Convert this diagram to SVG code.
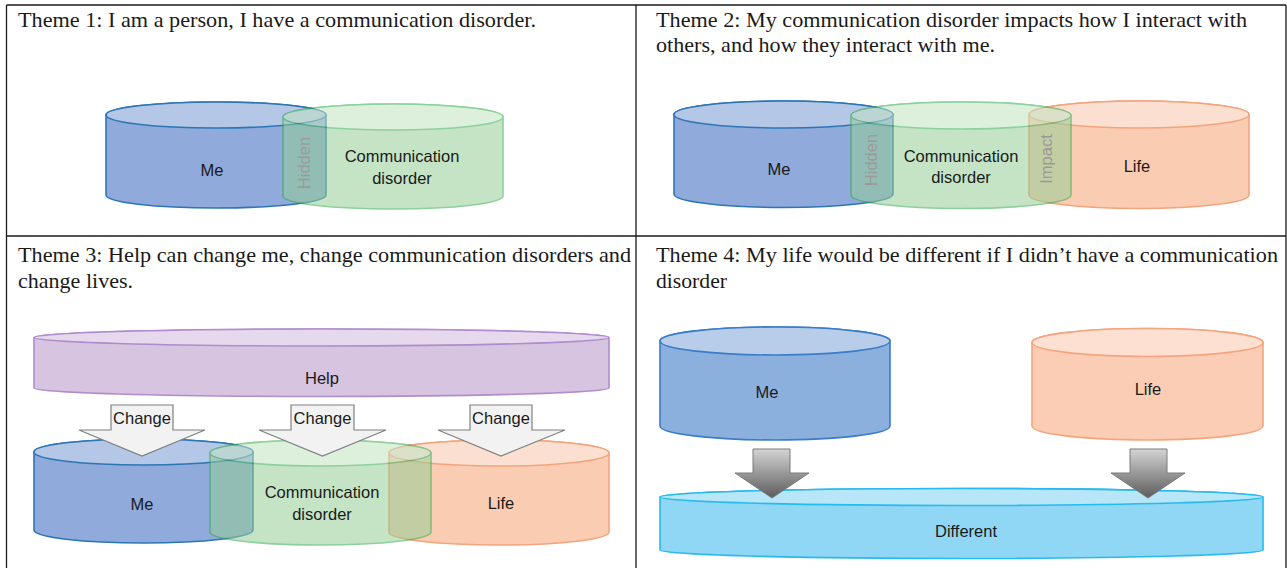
<svg xmlns="http://www.w3.org/2000/svg" width="1287" height="568" viewBox="0 0 1287 568">
<defs>
<linearGradient id="gray" x1="0" y1="0" x2="0" y2="1">
<stop offset="0" stop-color="#d4d4d4"/>
<stop offset="1" stop-color="#5c5c5c"/>
</linearGradient>
<style>
.title{font-family:"Liberation Serif","Times New Roman",serif;font-size:21px;fill:#1a1a1a}
.lbl{font-family:"Liberation Sans",Arial,sans-serif;font-size:16.5px;fill:#1a1a1a;text-anchor:middle}
.vlbl{font-family:"Liberation Sans",Arial,sans-serif;font-size:16.5px;fill:#9a9a9a;text-anchor:middle;dominant-baseline:central}
.grid{stroke:#1a1a1a;stroke-width:1.3;fill:none}
.cyl path,.cyl ellipse{stroke-width:1.6}
.me path{fill:#8faadb;stroke:#2e75b6}.me ellipse{fill:#b4c7e7;stroke:#2e75b6}
.comm{opacity:0.55}.comm path{fill:#96ce96;stroke:#33ab4e}.comm ellipse{fill:#c1e4c1;stroke:#33ab4e}
.life{opacity:0.6}.life path{fill:#f7ac82;stroke:#ed6926}.life ellipse{fill:#facbb4;stroke:#ed6926}
.help path{fill:#d6c4e1;stroke:#b18ccd}.help ellipse{fill:#e6d9ed;stroke:#b18ccd}
.me4 path{fill:#8cb0de;stroke:#3a7cc8}.me4 ellipse{fill:#b7cdea;stroke:#3a7cc8}
.life4 path{fill:#fbcdb4;stroke:#f5a57e}.life4 ellipse{fill:#fde0d2;stroke:#f5a57e}
.diff path{fill:#90d7f5;stroke:#27baee}.diff ellipse{fill:#b6e6f8;stroke:#27baee}
.warrow{fill:#f2f2f2;stroke:#808080;stroke-width:1.2}
.garrow{fill:url(#gray);stroke:#7a7a7a;stroke-width:1}
</style>
</defs>
<rect width="1287" height="568" fill="#ffffff"/>
<g id="table">
<path class="grid" d="M6.5 5 H1286 M6.5 5 V568 M636 5 V568 M1286 5 V568 M6.5 236 H1286"/>
</g>
<g id="titles">
<text class="title" x="18" y="27" textLength="518" lengthAdjust="spacingAndGlyphs">Theme 1: I am a person, I have a communication disorder.</text>
<text class="title" x="656" y="27" textLength="591" lengthAdjust="spacingAndGlyphs">Theme 2: My communication disorder impacts how I interact with</text>
<text class="title" x="656" y="52" textLength="339" lengthAdjust="spacingAndGlyphs">others, and how they interact with me.</text>
<text class="title" x="18" y="262" textLength="613" lengthAdjust="spacingAndGlyphs">Theme 3: Help can change me, change communication disorders and</text>
<text class="title" x="18" y="288" textLength="115" lengthAdjust="spacingAndGlyphs">change lives.</text>
<text class="title" x="656" y="262" textLength="622" lengthAdjust="spacingAndGlyphs">Theme 4: My life would be different if I didn’t have a communication</text>
<text class="title" x="656" y="288" textLength="71" lengthAdjust="spacingAndGlyphs">disorder</text>
</g>
<!-- Theme 1 -->
<g id="t1-me" class="cyl me">
<path d="M106 115 V195 A110 13 0 0 0 326 195 V115 A110 13 0 0 0 106 115 Z"/>
<ellipse cx="216" cy="115" rx="110" ry="13"/>
<text class="lbl" x="212" y="176">Me</text>
</g>
<g id="t1-comm" class="cyl comm">
<path d="M283 117 V196 A110 13 0 0 0 503 196 V117 A110 13 0 0 0 283 117 Z"/>
<ellipse cx="393" cy="117" rx="110" ry="13"/>
</g>
<g id="t1-comm-label">
<text class="lbl" x="402" y="162">Communication</text>
<text class="lbl" x="402" y="184">disorder</text>
<text class="vlbl" transform="translate(304,163) rotate(-90)">Hidden</text>
</g>
<!-- Theme 2 -->
<g id="t2-me" class="cyl me">
<path d="M674 114.5 V194 A109.5 13.5 0 0 0 893 194 V114.5 A109.5 13.5 0 0 0 674 114.5 Z"/>
<ellipse cx="783.5" cy="114.5" rx="109.5" ry="13.5"/>
<text class="lbl" x="779" y="175">Me</text>
</g>
<g id="t2-life" class="cyl life">
<path d="M1029 114.5 V195 A110 13.5 0 0 0 1249 195 V114.5 A110 13.5 0 0 0 1029 114.5 Z"/>
<ellipse cx="1139" cy="114.5" rx="110" ry="13.5"/>
</g>
<g id="t2-comm" class="cyl comm">
<path d="M851 115.5 V195 A110 13.5 0 0 0 1071 195 V115.5 A110 13.5 0 0 0 851 115.5 Z"/>
<ellipse cx="961" cy="115.5" rx="110" ry="13.5"/>
</g>
<g id="t2-labels">
<text class="lbl" x="1137" y="172">Life</text>
<text class="lbl" x="961" y="162">Communication</text>
<text class="lbl" x="961" y="183">disorder</text>
<text class="vlbl" transform="translate(871,160) rotate(-90)">Hidden</text>
<text class="vlbl" transform="translate(1046,159) rotate(-90)">Impact</text>
</g>
<!-- Theme 3 -->
<g id="t3-help" class="cyl help">
<path d="M34 337.5 V388 A287.5 8.5 0 0 0 609 388 V337.5 A287.5 8.5 0 0 0 34 337.5 Z"/>
<ellipse cx="321.5" cy="337.5" rx="287.5" ry="8.5"/>
<text class="lbl" x="322" y="383.5">Help</text>
</g>
<g id="t3-me" class="cyl me">
<path d="M34 452 V530 A109.5 13 0 0 0 253 530 V452 A109.5 13 0 0 0 34 452 Z"/>
<ellipse cx="143.5" cy="452" rx="109.5" ry="13"/>
<text class="lbl" x="142" y="510">Me</text>
</g>
<g id="t3-life" class="cyl life">
<path d="M389 453 V532 A110 13 0 0 0 609 532 V453 A110 13 0 0 0 389 453 Z"/>
<ellipse cx="499" cy="453" rx="110" ry="13"/>
</g>
<g id="t3-comm" class="cyl comm">
<path d="M210 453 V532 A110.5 13 0 0 0 431 532 V453 A110.5 13 0 0 0 210 453 Z"/>
<ellipse cx="320.5" cy="453" rx="110.5" ry="13"/>
</g>
<g id="t3-labels">
<text class="lbl" x="501" y="508.5">Life</text>
<text class="lbl" x="322" y="497.5">Communication</text>
<text class="lbl" x="322" y="519.5">disorder</text>
</g>
<g id="connectors">
<g id="t3-arrows">
<polygon class="warrow" points="111,405 173,405 173,430 205,430 142,456 79,430 111,430"/>
<polygon class="warrow" points="291,405 354,405 354,430 386,430 322.5,456 259,430 291,430"/>
<polygon class="warrow" points="470,405 532,405 532,430 565,430 501,456 438,430 470,430"/>
<text class="lbl" x="142" y="424">Change</text>
<text class="lbl" x="322.5" y="424">Change</text>
<text class="lbl" x="501" y="424">Change</text>
</g>
</g>
<!-- Theme 4 -->
<g id="t4-me" class="cyl me4">
<path d="M660 341 V426 A115 14 0 0 0 890 426 V341 A115 14 0 0 0 660 341 Z"/>
<ellipse cx="775" cy="341" rx="115" ry="14"/>
<text class="lbl" x="767" y="397.5">Me</text>
</g>
<g id="t4-life" class="cyl life4">
<path d="M1032 342.5 V426 A115.5 14 0 0 0 1263 426 V342.5 A115.5 14 0 0 0 1032 342.5 Z"/>
<ellipse cx="1147.5" cy="342.5" rx="115.5" ry="14"/>
<text class="lbl" x="1148" y="394.5">Life</text>
</g>
<g id="t4-different" class="cyl diff">
<path d="M660 497 V550 A301.5 8.5 0 0 0 1263 550 V497 A301.5 8.5 0 0 0 660 497 Z"/>
<ellipse cx="961.5" cy="497" rx="301.5" ry="8.5"/>
<text class="lbl" x="966" y="537">Different</text>
</g>
<g id="t4-arrows">
<polygon class="garrow" points="753,449 790,449 790,473 809,473 772,498 735,473 753,473"/>
<polygon class="garrow" points="1130,449 1167,449 1167,473 1185,473 1148,498 1111,473 1130,473"/>
</g>
</svg>
